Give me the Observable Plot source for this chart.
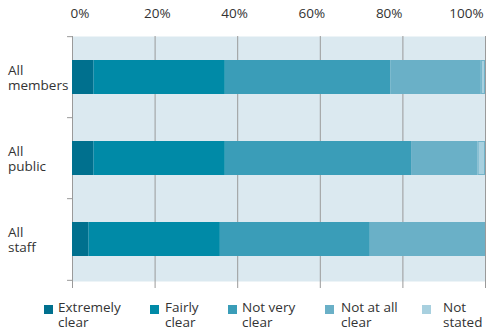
<!DOCTYPE html>
<html>
<head>
<meta charset="utf-8">
<script src="https://cdn.jsdelivr.net/npm/d3@7"></script>
<script src="https://cdn.jsdelivr.net/npm/@observablehq/plot@0.6"></script>
<style>
  html, body { margin: 0; padding: 0; background: #fff; }
  #wrap { position: relative; width: 496px; font-family: "Open Sans", sans-serif; color: #333; }
  #wrap svg { display: block; }
  #legend { position: relative; width: 496px; height: 43px; font-size: 13.5px; line-height: 15px; }
  .sw { position: absolute; width: 9px; height: 9px; top: 15px; }
  .lb { position: absolute; top: 10px; white-space: pre; }
  .yl { position: absolute; left: 8px; font-size: 13.5px; line-height: 15px; white-space: pre; }
</style>
</head>
<body>
<div id="wrap"></div>
<script>
// ---- data ----
const categories = ["All members", "All public", "All staff"];
const categoryLabels = ["All\nmembers", "All\npublic", "All\nstaff"];
const responses = ["Extremely clear", "Fairly clear", "Not very clear", "Not at all clear", "Not stated"];
const legendLabels = ["Extremely\nclear", "Fairly\nclear", "Not very\nclear", "Not at all\nclear", "Not\nstated"];
const membersValues = [5.2, 31.8, 40.1, 21.9, 1.0];
const publicValues = [5.2, 31.8, 45.1, 16.1, 1.8];
const staffValues = [4.0, 31.8, 36.3, 27.9, 0];
const xTicks = [0, 20, 40, 60, 80, 100];
const colors = ["#00708e", "#008aa7", "#3a9db8", "#6ab0c7", "#a8d0df"];

// ---- layout / style ----
const bg = "#dbe9f0";
const gridColor = "#9a9a9a";
const step = (281 - 36) / 3;

const seriesByCategory = [membersValues, publicValues, staffValues];
const rows = [];
categories.forEach((c, i) => {
  responses.forEach((r, j) => rows.push({group: c, response: r, value: seriesByCategory[i][j]}));
});

const chart = Plot.plot({
  width: 496,
  height: 290,
  marginTop: 36,
  marginLeft: 72,
  marginRight: 11,
  marginBottom: 2,
  style: {fontFamily: "Open Sans", fontSize: "13.5px", color: "#333", background: "#fff"},
  x: {domain: [0, 100], axis: null},
  y: {domain: categories, range: [36, 281], paddingInner: 0.58, paddingOuter: 0.29, axis: null},
  color: {domain: responses, range: colors},
  marks: [
    Plot.frame({fill: bg, stroke: "none", insetBottom: 7}),
    Plot.ruleX(xTicks, {x: d => d, stroke: gridColor, strokeWidth: 1}),
    Plot.barX(rows, Plot.stackX({x: "value", y: "group", fill: "response"})),
    Plot.barX(rows, Plot.stackX({
      x: "value", y: "group", fill: "none", stroke: "#72b4ca", strokeWidth: 1,
      strokeOpacity: d => (d.response === "Not stated" && d.value > 0) ? 1 : 0, inset: 0.5
    })),
    Plot.ruleY(categories, {y: d => d, x1: -1.2, x2: 0, dy: -step / 2, stroke: gridColor}),
    Plot.ruleY(categories.slice(-1), {y: d => d, x1: -1.2, x2: 0, dy: step / 2, stroke: gridColor}),
    Plot.text(xTicks, {
      x: v => v * 0.936 + 1.8, text: v => v + "%", frameAnchor: "top", dy: -22.5,
      lineAnchor: "middle", textAnchor: "middle"
    })
  ]
});

const wrap = document.getElementById("wrap");
wrap.appendChild(chart);

// category labels (two lines, left aligned) placed with the chart's y scale
const yScale = chart.scale("y");
categories.forEach((c, i) => {
  const center = yScale.apply(c) + yScale.bandwidth / 2;
  const el = document.createElement("div");
  el.className = "yl";
  el.style.top = (center - 14.5) + "px";
  el.textContent = categoryLabels[i];
  wrap.appendChild(el);
});

const legend = document.createElement("div");
legend.id = "legend";
const swatchX = [44, 150, 228, 325, 422];
const labelX = [58, 165, 242, 341, 443];
responses.forEach((r, i) => {
  const sw = document.createElement("div");
  sw.className = "sw";
  sw.style.left = swatchX[i] + "px";
  sw.style.background = colors[i];
  legend.appendChild(sw);
  const lb = document.createElement("div");
  lb.className = "lb";
  lb.style.left = labelX[i] + "px";
  lb.textContent = legendLabels[i];
  legend.appendChild(lb);
});
wrap.appendChild(legend);
</script>
</body>
</html>
